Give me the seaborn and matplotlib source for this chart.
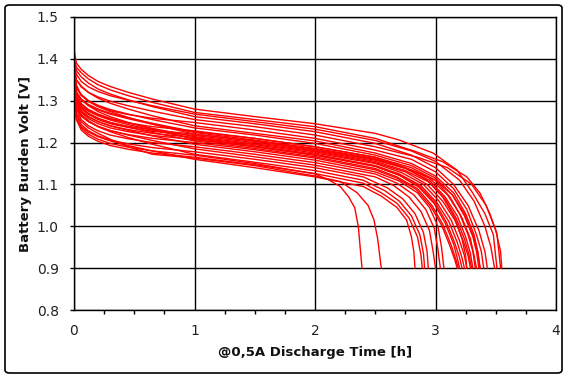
import numpy as np
import pandas as pd
import matplotlib
matplotlib.use("Agg")
import matplotlib.pyplot as plt
from matplotlib.patches import FancyBboxPatch
from matplotlib.ticker import MultipleLocator, FormatStrFormatter
import seaborn as sns

# shared early part of every discharge curve (hours)
head_hours = [0.0, 0.02, 0.06, 0.12, 0.2, 0.3, 0.45, 0.65, 1.0, 1.5, 2.0]

# voltage of each cell at head_hours
head_volts = [
    [1.42, 1.39, 1.375, 1.36, 1.346, 1.334, 1.32, 1.304, 1.28, 1.262, 1.245],
    [1.40, 1.38, 1.367, 1.352, 1.338, 1.326, 1.312, 1.296, 1.272, 1.255, 1.238],
    [1.39, 1.363, 1.346, 1.333, 1.322, 1.312, 1.301, 1.288, 1.268, 1.25, 1.232],
    [1.40, 1.372, 1.357, 1.342, 1.328, 1.316, 1.302, 1.286, 1.262, 1.245, 1.226],
    [1.385, 1.35, 1.333, 1.32, 1.309, 1.299, 1.288, 1.275, 1.255, 1.238, 1.218],
    [1.39, 1.338, 1.313, 1.298, 1.286, 1.276, 1.267, 1.258, 1.248, 1.23, 1.21],
    [1.38, 1.35, 1.335, 1.32, 1.306, 1.294, 1.28, 1.264, 1.24, 1.222, 1.204],
    [1.365, 1.33, 1.313, 1.30, 1.289, 1.279, 1.268, 1.255, 1.235, 1.218, 1.198],
    [1.37, 1.318, 1.293, 1.278, 1.266, 1.256, 1.247, 1.238, 1.228, 1.21, 1.19],
    [1.35, 1.319, 1.302, 1.289, 1.278, 1.268, 1.257, 1.244, 1.224, 1.206, 1.186],
    [1.36, 1.33, 1.315, 1.30, 1.286, 1.274, 1.26, 1.244, 1.22, 1.204, 1.184],
    [1.34, 1.307, 1.282, 1.267, 1.255, 1.245, 1.236, 1.227, 1.217, 1.20, 1.18],
    [1.36, 1.309, 1.292, 1.279, 1.268, 1.258, 1.247, 1.234, 1.214, 1.197, 1.178],
    [1.33, 1.302, 1.277, 1.262, 1.25, 1.24, 1.231, 1.222, 1.212, 1.195, 1.175],
    [1.345, 1.305, 1.288, 1.275, 1.264, 1.254, 1.243, 1.23, 1.21, 1.192, 1.172],
    [1.32, 1.297, 1.272, 1.257, 1.245, 1.235, 1.226, 1.217, 1.207, 1.19, 1.17],
    [1.34, 1.299, 1.282, 1.269, 1.258, 1.248, 1.237, 1.224, 1.204, 1.186, 1.166],
    [1.31, 1.29, 1.265, 1.25, 1.238, 1.228, 1.219, 1.21, 1.20, 1.183, 1.163],
    [1.37, 1.318, 1.303, 1.288, 1.274, 1.262, 1.248, 1.232, 1.208, 1.19, 1.17],
    [1.33, 1.291, 1.274, 1.261, 1.25, 1.24, 1.229, 1.216, 1.196, 1.178, 1.158],
    [1.32, 1.28, 1.255, 1.24, 1.228, 1.218, 1.209, 1.20, 1.19, 1.172, 1.152],
    [1.34, 1.28, 1.263, 1.25, 1.239, 1.229, 1.218, 1.205, 1.185, 1.166, 1.146],
    [1.31, 1.268, 1.243, 1.228, 1.216, 1.206, 1.197, 1.188, 1.178, 1.16, 1.14],
    [1.33, 1.282, 1.267, 1.252, 1.238, 1.226, 1.212, 1.196, 1.172, 1.153, 1.133],
    [1.31, 1.255, 1.23, 1.215, 1.203, 1.193, 1.184, 1.175, 1.165, 1.147, 1.126],
    [1.32, 1.255, 1.238, 1.225, 1.214, 1.204, 1.193, 1.18, 1.16, 1.14, 1.118],
    [1.30, 1.27, 1.25, 1.235, 1.222, 1.208, 1.19, 1.172, 1.163, 1.145, 1.12],
    [1.33, 1.26, 1.235, 1.22, 1.208, 1.198, 1.189, 1.18, 1.17, 1.15, 1.125],
    [1.35, 1.31, 1.285, 1.27, 1.258, 1.248, 1.239, 1.23, 1.22, 1.203, 1.182],
    [1.36, 1.321, 1.304, 1.291, 1.28, 1.27, 1.259, 1.246, 1.226, 1.21, 1.19],
]

# end-of-discharge part of each cell, down to the 0.9 V cut-off
tail_hours = [
    [2.5, 2.7, 2.98, 3.18, 3.31, 3.41, 3.48, 3.51],
    [2.5, 2.84, 3.06, 3.26, 3.37, 3.45, 3.51, 3.54],
    [2.5, 2.8, 3.0, 3.2, 3.32, 3.41, 3.46, 3.49],
    [2.5, 2.8, 3.0, 3.15, 3.27, 3.36, 3.41, 3.43],
    [2.5, 2.85, 3.1, 3.3, 3.42, 3.5, 3.54, 3.55],
    [2.5, 2.8, 3.0, 3.15, 3.26, 3.34, 3.38, 3.40],
    [2.5, 2.8, 3.0, 3.15, 3.25, 3.32, 3.35, 3.37],
    [2.5, 2.8, 3.0, 3.14, 3.24, 3.31, 3.34, 3.36],
    [2.5, 2.8, 3.0, 3.12, 3.22, 3.29, 3.32, 3.34],
    [2.5, 2.75, 2.95, 3.1, 3.2, 3.27, 3.31, 3.33],
    [2.5, 2.75, 2.95, 3.08, 3.18, 3.25, 3.29, 3.31],
    [2.5, 2.75, 2.95, 3.08, 3.17, 3.24, 3.28, 3.30],
    [2.5, 2.75, 2.93, 3.06, 3.16, 3.23, 3.27, 3.29],
    [2.5, 2.72, 2.9, 3.03, 3.13, 3.2, 3.24, 3.26],
    [2.5, 2.7, 2.88, 3.01, 3.11, 3.18, 3.22, 3.24],
    [2.5, 2.7, 2.87, 3.0, 3.09, 3.16, 3.2, 3.22],
    [2.5, 2.68, 2.85, 2.97, 3.06, 3.13, 3.17, 3.19],
    [2.5, 2.68, 2.84, 2.96, 3.05, 3.12, 3.16, 3.18],
    [2.5, 2.7, 2.86, 2.99, 3.08, 3.15, 3.18, 3.20],
    [2.5, 2.7, 2.85, 2.95, 3.02, 3.05, 3.07],
    [2.5, 2.68, 2.82, 2.92, 2.99, 3.02, 3.04],
    [2.5, 2.65, 2.78, 2.88, 2.95, 2.98, 3.00],
    [2.4, 2.6, 2.73, 2.83, 2.9, 2.93, 2.94],
    [2.4, 2.58, 2.7, 2.8, 2.87, 2.9, 2.91],
    [2.4, 2.55, 2.68, 2.78, 2.85, 2.88, 2.89],
    [2.4, 2.55, 2.68, 2.76, 2.8, 2.82, 2.83],
    [2.21, 2.35, 2.44, 2.49, 2.52, 2.55],
    [2.12, 2.21, 2.28, 2.33, 2.36, 2.39],
    [2.5, 2.8, 3.0, 3.14, 3.24, 3.31, 3.35, 3.37],
    [2.5, 2.75, 2.93, 3.06, 3.16, 3.22, 3.25, 3.26],
]
tail_volts = [
    [1.222, 1.206, 1.175, 1.134, 1.079, 1.03, 0.98, 0.90],
    [1.21, 1.178, 1.154, 1.118, 1.079, 1.031, 0.983, 0.90],
    [1.205, 1.18, 1.155, 1.11, 1.06, 1.0, 0.95, 0.90],
    [1.198, 1.17, 1.14, 1.10, 1.05, 0.99, 0.94, 0.90],
    [1.19, 1.165, 1.14, 1.10, 1.05, 0.99, 0.94, 0.90],
    [1.182, 1.16, 1.13, 1.09, 1.04, 0.98, 0.94, 0.90],
    [1.175, 1.15, 1.12, 1.08, 1.03, 0.98, 0.94, 0.90],
    [1.17, 1.145, 1.115, 1.075, 1.025, 0.975, 0.94, 0.90],
    [1.165, 1.14, 1.11, 1.07, 1.02, 0.97, 0.93, 0.90],
    [1.162, 1.14, 1.115, 1.075, 1.03, 0.98, 0.94, 0.90],
    [1.16, 1.138, 1.11, 1.07, 1.025, 0.975, 0.935, 0.90],
    [1.155, 1.133, 1.105, 1.065, 1.02, 0.97, 0.93, 0.90],
    [1.152, 1.13, 1.10, 1.06, 1.015, 0.965, 0.93, 0.90],
    [1.15, 1.128, 1.10, 1.06, 1.015, 0.965, 0.93, 0.90],
    [1.145, 1.125, 1.097, 1.057, 1.012, 0.962, 0.925, 0.90],
    [1.143, 1.122, 1.095, 1.055, 1.01, 0.96, 0.925, 0.90],
    [1.138, 1.118, 1.09, 1.05, 1.005, 0.955, 0.92, 0.90],
    [1.135, 1.115, 1.088, 1.048, 1.003, 0.953, 0.92, 0.90],
    [1.144, 1.122, 1.094, 1.054, 1.008, 0.958, 0.925, 0.90],
    [1.13, 1.108, 1.08, 1.045, 1.0, 0.95, 0.90],
    [1.125, 1.103, 1.075, 1.04, 0.995, 0.945, 0.90],
    [1.118, 1.098, 1.07, 1.035, 0.99, 0.94, 0.90],
    [1.118, 1.092, 1.065, 1.03, 0.985, 0.94, 0.90],
    [1.11, 1.085, 1.06, 1.025, 0.98, 0.935, 0.90],
    [1.103, 1.08, 1.055, 1.02, 0.975, 0.93, 0.90],
    [1.095, 1.072, 1.045, 1.015, 0.975, 0.94, 0.90],
    [1.107, 1.08, 1.05, 1.015, 0.97, 0.90],
    [1.11, 1.095, 1.07, 1.044, 0.998, 0.90],
    [1.158, 1.135, 1.11, 1.075, 1.03, 0.98, 0.94, 0.90],
    [1.165, 1.14, 1.11, 1.07, 1.02, 0.97, 0.93, 0.90],
]

rows = []
for i, (hv, th, tv) in enumerate(zip(head_volts, tail_hours, tail_volts)):
    for t, v in zip(head_hours + th, hv + tv):
        rows.append({'cell': i, 'hours': t, 'volts': v})
df = pd.DataFrame(rows)

sns.set_style('white')
plt.rcParams['font.family'] = ['DejaVu Sans']

fig = plt.figure(figsize=(5.68, 3.79), dpi=100)
ax = fig.add_axes([74 / 568, 69 / 379, 482 / 568, 293 / 379])

sns.lineplot(data=df, x='hours', y='volts', units='cell', estimator=None,
             sort=False, color='#ff0000', linewidth=1.0, ax=ax, legend=False)

ax.set_xlim(0, 4)
ax.set_ylim(0.8, 1.5)
ax.xaxis.set_major_locator(MultipleLocator(1))
ax.xaxis.set_minor_locator(MultipleLocator(0.25))
ax.yaxis.set_major_locator(MultipleLocator(0.1))
ax.yaxis.set_major_formatter(FormatStrFormatter('%.1f'))
ax.set_axisbelow(True)
ax.grid(True, which='major', color='black', linewidth=1)
for s in ax.spines.values():
    s.set_color('black')
    s.set_linewidth(1)
ax.tick_params(axis='x', which='major', direction='out', length=4, width=1,
               colors='black', labelcolor='#222222', labelsize=10, pad=6)
ax.tick_params(axis='x', which='minor', direction='out', length=3, width=1,
               colors='black', bottom=True)
ax.tick_params(axis='y', which='major', direction='out', length=3, width=1,
               colors='black', labelcolor='#222222', labelsize=10, pad=8, left=True)

ax.set_xlabel('@0,5A Discharge Time [h]', fontsize=9.5, fontweight='bold', color='#111111')
ax.set_ylabel('Battery Burden Volt [V]', fontsize=9.5, fontweight='bold', color='#111111')
ax.xaxis.set_label_coords(0.5, -0.123)
ax.yaxis.set_label_coords(-0.087, 0.5)

# rounded frame around the whole chart
frame = FancyBboxPatch((5 / 568, 6 / 379), 557 / 568, 368 / 379,
                       boxstyle='round,pad=0,rounding_size=0.008',
                       transform=fig.transFigure, fill=False,
                       edgecolor='black', linewidth=1.2)
fig.patches.append(frame)

fig.savefig('out.png', dpi=100)
